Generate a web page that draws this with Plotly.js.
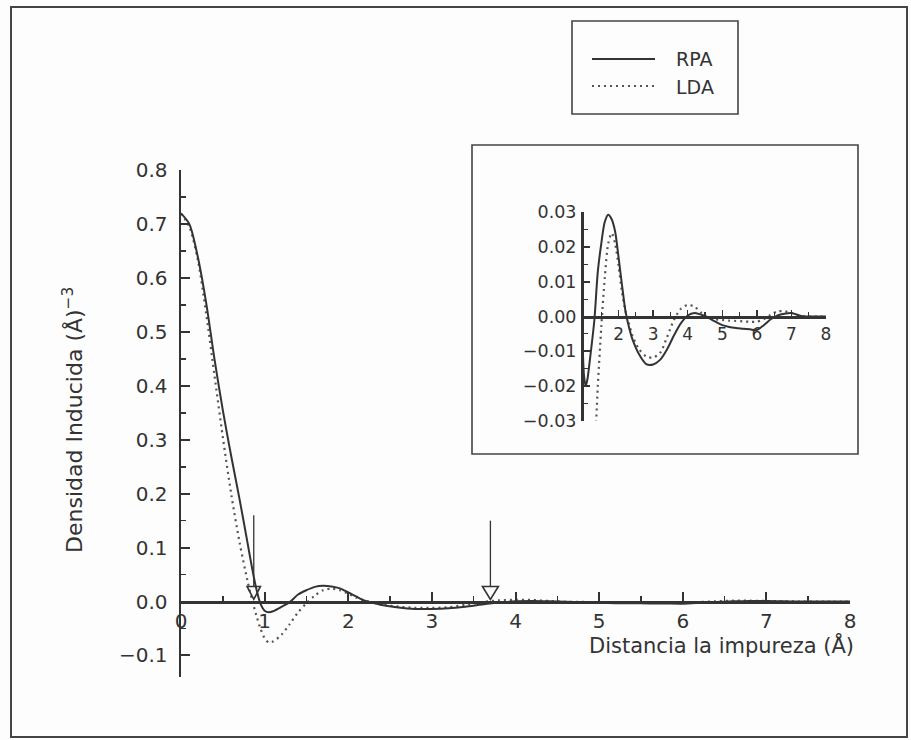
<!DOCTYPE html>
<html>
<head>
<meta charset="utf-8">
<script src="https://cdn.plot.ly/plotly-3.0.1.min.js"></script>
<style>html,body{margin:0;padding:0;background:#fdfdfd;}#chart{width:911px;height:740px;}</style>
</head>
<body>
<div id="chart"></div>
<script>
// ---- data ----
const distance = [0, 0.1, 0.2, 0.3, 0.4, 0.5, 0.6, 0.7, 0.8, 0.85, 0.9, 0.95, 1.0, 1.05, 1.1, 1.2, 1.3, 1.4, 1.5, 1.6, 1.7, 1.8, 1.9, 2.0, 2.1, 2.2, 2.3, 2.4, 2.6, 2.8, 3.0, 3.2, 3.4, 3.6, 3.8, 4.0, 4.2, 4.4, 4.6, 4.8, 5.0, 5.2, 5.4, 5.6, 5.8, 6.0, 6.2, 6.4, 6.6, 6.8, 7.0, 7.2, 7.4, 7.6, 7.8, 8.0];
const rpa = [0.72, 0.70, 0.64, 0.555, 0.45, 0.355, 0.27, 0.19, 0.105, 0.062, 0.024, -0.004, -0.017, -0.020, -0.018, -0.010, -0.001, 0.013, 0.021, 0.0272, 0.0293, 0.028, 0.0245, 0.017, 0.009, 0.0015, -0.003, -0.0065, -0.011, -0.0137, -0.0138, -0.0125, -0.0095, -0.0055, -0.002, 0.0003, 0.001, 0.0005, -0.0004, -0.0015, -0.0025, -0.003, -0.0033, -0.0035, -0.0037, -0.0039, -0.0025, -0.0008, 0.0003, 0.0008, 0.001, 0.0004, 0.0, 0.0, 0.0, 0.0];
const lda = [0.72, 0.695, 0.635, 0.535, 0.42, 0.305, 0.20, 0.11, 0.035, 0.003, -0.025, -0.05, -0.068, -0.076, -0.074, -0.062, -0.042, -0.020, -0.003, 0.011, 0.021, 0.024, 0.021, 0.0145, 0.007, 0.0015, -0.002, -0.0055, -0.0095, -0.0115, -0.0118, -0.0105, -0.006, -0.001, 0.0022, 0.0033, 0.0028, 0.001, -0.0004, -0.0008, -0.001, -0.0012, -0.0013, -0.0014, -0.0015, -0.0015, -0.0008, 0.0005, 0.0015, 0.0015, 0.001, 0.0004, 0.0, 0.0, 0.0, 0.0];
const seriesNames = ["RPA", "LDA"];
const mainXTicks = [0, 1, 2, 3, 4, 5, 6, 7, 8];
const mainYTicks = [-0.1, 0.0, 0.1, 0.2, 0.3, 0.4, 0.5, 0.6, 0.7, 0.8];
const insetXTicks = [2, 3, 4, 5, 6, 7, 8];
const insetYTicks = [-0.03, -0.02, -0.01, 0.0, 0.01, 0.02, 0.03];
const arrowX = [0.87, 3.70];
const arrowTop = [0.16, 0.15];
const xTitle = "Distancia la impureza (Å)";
const yTitle = "Densidad Inducida (Å)<sup>−3</sup>";

// ---- layout geometry ----
const W = 911, H = 740;
const px = v => v / W;
const py = v => 1 - v / H;
const ink = '#333';
const fontMain = 'DejaVu Sans, sans-serif';

const mainXDom = [px(181), px(850)];
const mainYDom = [py(677), py(170)];
const mainYRange = [-0.14, 0.8005];
const insetXDom = [px(584), px(826)];
const insetYDom = [py(421), py(212)];
const insetYRange = [-0.0301, 0.0301];

const zeroPos = (dom, rng) => dom[0] + (0 - rng[0]) / (rng[1] - rng[0]) * (dom[1] - dom[0]);

const solid = {color: ink, width: 2, shape: 'spline', smoothing: 0.8};
const dotted = {color: '#555', width: 2.2, dash: '2px,4px', shape: 'spline', smoothing: 0.8};
const legendSolid = {color: ink, width: 2};
const legendDotted = {color: '#555', width: 2.2, dash: '2px,4px'};

const traces = [
  {x: distance, y: lda, name: seriesNames[1], mode: 'lines', line: dotted, xaxis: 'x', yaxis: 'y', showlegend: false},
  {x: distance, y: rpa, name: seriesNames[0], mode: 'lines', line: solid, xaxis: 'x', yaxis: 'y', showlegend: false},
  {x: distance, y: lda, name: seriesNames[1], mode: 'lines', line: dotted, xaxis: 'x2', yaxis: 'y2', showlegend: false},
  {x: distance, y: rpa, name: seriesNames[0], mode: 'lines', line: solid, xaxis: 'x2', yaxis: 'y2', showlegend: false}
];

const axisCommon = {showgrid: false, zeroline: false, showline: true, linecolor: ink, ticks: 'inside', tickcolor: ink};

const shapes = [
  {type: 'rect', xref: 'paper', yref: 'paper', x0: px(11), x1: px(907), y0: py(737), y1: py(7), line: {color: '#444', width: 2}, layer: 'below'},
  {type: 'rect', xref: 'paper', yref: 'paper', x0: px(472), x1: px(858), y0: py(454), y1: py(145), line: {color: '#444', width: 1.6}, layer: 'below'},
  {type: 'rect', xref: 'paper', yref: 'paper', x0: px(572), x1: px(738), y0: py(114), y1: py(21), line: {color: '#444', width: 1.6}, layer: 'below'},
  {type: 'line', xref: 'paper', yref: 'paper', x0: px(592), x1: px(655), y0: py(59), y1: py(59), line: legendSolid},
  {type: 'line', xref: 'paper', yref: 'paper', x0: px(592), x1: px(655), y0: py(86), y1: py(86), line: legendDotted}
];
arrowX.forEach((ax, i) => {
  const hw = i === 0 ? 0.08 : 0.095;
  shapes.push({type: 'line', xref: 'x', yref: 'y', x0: ax, x1: ax, y0: arrowTop[i], y1: 0.028, line: {color: ink, width: 1.3}});
  shapes.push({type: 'path', xref: 'x', yref: 'y', path: `M ${ax - hw},0.028 L ${ax + hw},0.028 L ${ax},0.004 Z`, line: {color: ink, width: 1.6}, fillcolor: 'rgba(0,0,0,0)'});
});

const annotations = [
  {text: yTitle, xref: 'paper', yref: 'paper', x: px(73), y: py(420), textangle: -90, showarrow: false, xanchor: 'center', yanchor: 'middle', font: {family: fontMain, size: 22, color: ink}},
  {text: xTitle, xref: 'paper', yref: 'paper', x: px(856), y: py(645), showarrow: false, xanchor: 'right', yanchor: 'middle', font: {family: fontMain, size: 21, color: ink}},
  {text: seriesNames[0], xref: 'paper', yref: 'paper', x: px(674), y: py(59), showarrow: false, xanchor: 'left', yanchor: 'middle', font: {family: fontMain, size: 19, color: ink}},
  {text: seriesNames[1], xref: 'paper', yref: 'paper', x: px(674), y: py(87), showarrow: false, xanchor: 'left', yanchor: 'middle', font: {family: fontMain, size: 19, color: ink}}
];

const layout = {
  width: W, height: H, autosize: false,
  margin: {l: 0, r: 0, t: 0, b: 0, pad: 0},
  paper_bgcolor: '#fdfdfd', plot_bgcolor: 'rgba(0,0,0,0)',
  showlegend: false,
  font: {family: fontMain, color: ink},
  xaxis: Object.assign({}, axisCommon, {
    domain: mainXDom, range: [0, 8], anchor: 'free', position: zeroPos(mainYDom, mainYRange),
    tickmode: 'array', tickvals: mainXTicks, ticklen: 9, tickwidth: 2, linewidth: 3,
    ticklabelstandoff: 0,
    minor: {tickmode: 'linear', tick0: 0, dtick: 0.5, ticks: 'inside', ticklen: 5, tickwidth: 1.5, tickcolor: ink},
    tickfont: {family: fontMain, size: 20, color: ink}
  }),
  yaxis: Object.assign({}, axisCommon, {
    domain: mainYDom, range: mainYRange, anchor: 'x',
    tickmode: 'array', tickvals: mainYTicks, tickformat: '.1f', ticklen: 9, tickwidth: 2, linewidth: 2.5,
    ticklabelstandoff: 7,
    minor: {tickmode: 'linear', tick0: 0, dtick: 0.05, ticks: 'inside', ticklen: 5, tickwidth: 1.5, tickcolor: ink},
    tickfont: {family: fontMain, size: 20, color: ink}
  }),
  xaxis2: Object.assign({}, axisCommon, {
    domain: insetXDom, range: [1, 8], anchor: 'free', position: zeroPos(insetYDom, insetYRange),
    tickmode: 'array', tickvals: insetXTicks, ticklen: 6, tickwidth: 1.5, linewidth: 3,
    ticklabelstandoff: 1,
    minor: {tickmode: 'linear', tick0: 0, dtick: 0.5, ticks: 'inside', ticklen: 4, tickwidth: 1.2, tickcolor: ink},
    tickfont: {family: fontMain, size: 17, color: ink}
  }),
  yaxis2: Object.assign({}, axisCommon, {
    domain: insetYDom, range: insetYRange, anchor: 'x2',
    tickmode: 'array', tickvals: insetYTicks, tickformat: '.2f', ticklen: 6, tickwidth: 1.5, linewidth: 3,
    ticklabelstandoff: 1,
    minor: {tickmode: 'linear', tick0: 0, dtick: 0.005, ticks: 'inside', ticklen: 4, tickwidth: 1.2, tickcolor: ink},
    tickfont: {family: fontMain, size: 17.5, color: ink}
  }),
  shapes: shapes,
  annotations: annotations
};

Plotly.newPlot('chart', traces, layout, {staticPlot: true, displayModeBar: false});
</script>
</body>
</html>
